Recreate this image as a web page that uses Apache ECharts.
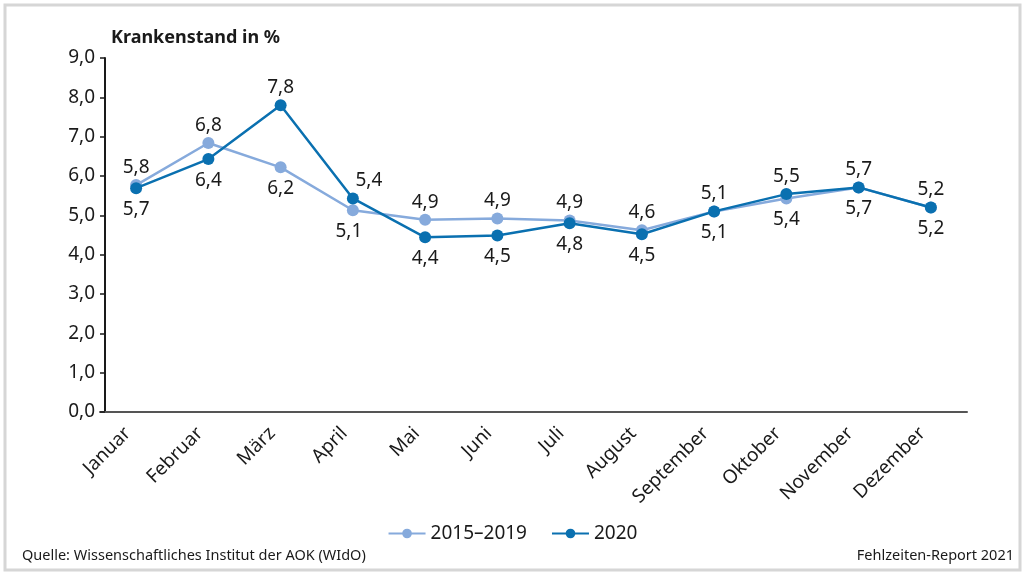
<!DOCTYPE html>
<html><head><meta charset="utf-8">
<script src="https://cdn.jsdelivr.net/npm/echarts@6/dist/echarts.min.js"></script>
<style>html,body{margin:0;padding:0;background:#fff}#c{width:1025px;height:573px}</style>
</head><body><div id="c"></div>
<script>
const months = ['Januar','Februar','März','April','Mai','Juni','Juli','August','September','Oktober','November','Dezember'];
const avg1519 = [5.77, 6.84, 6.22, 5.13, 4.89, 4.92, 4.87, 4.62, 5.10, 5.43, 5.71, 5.20];
const y2020   = [5.69, 6.43, 7.80, 5.43, 4.44, 4.49, 4.80, 4.52, 5.10, 5.54, 5.71, 5.20];
const yTicks = [0,1,2,3,4,5,6,7,8,9];
const seriesNames = ['2015–2019','2020'];
const lightPos = ['top','top','bottom','bottom','top','top','top','top','bottom','bottom','bottom','bottom'];
const darkPos  = ['bottom','bottom','top','top','bottom','bottom','bottom','bottom','top','top','top','top'];

const FONT = '"Noto Sans", "Open Sans", sans-serif';
const fmt = v => v.toFixed(1).replace('.', ',');
const light = '#86aadc', dark = '#0a70b0';

function build(vals, pos, darkSeries){
  return vals.map((v,i)=>{
    const lab = {position: pos[i], distance: pos[i]==='top'?2:6};
    if (darkSeries && i===3) { lab.offset = [16, 0]; }
    if (!darkSeries && i===3) { lab.offset = [-4, 0]; }
    return {value: v, label: lab};
  });
}

const chart = echarts.init(document.getElementById('c'), null, {renderer:'canvas'});
chart.setOption({
  animation:false,
  textStyle:{fontFamily:FONT},
  title:{text:'Krankenstand in %', left:106, top:24, textStyle:{fontFamily:FONT,fontSize:18,fontWeight:'bold',color:'#1a1a1a'}},
  grid:{left:100, right:58, top:58, bottom:161},
  legend:{top:519, left:'center', itemWidth:37, itemHeight:12, itemGap:24,
    textStyle:{fontFamily:FONT,fontSize:19,color:'#1a1a1a'}, data:seriesNames},
  xAxis:{type:'category', data:months, boundaryGap:true,
    axisLine:{lineStyle:{color:'#555',width:2}}, axisTick:{show:false},
    axisLabel:{rotate:45, fontFamily:FONT, fontSize:19, color:'#1a1a1a', margin:10, padding:[0,12,0,0], interval:0}},
  yAxis:{type:'value', min:yTicks[0], max:yTicks[yTicks.length-1], interval:1, offset:-5,
    axisLine:{show:true, lineStyle:{color:'#1a1a1a',width:2}},
    axisTick:{show:true, length:5, lineStyle:{color:'#1a1a1a',width:1.5}},
    splitLine:{show:false},
    axisLabel:{fontFamily:FONT, fontSize:19, color:'#1a1a1a', margin:10, formatter:v=>fmt(v)}},
  series:[
    {name:seriesNames[0], type:'line', data:build(avg1519, lightPos, false), symbol:'circle', symbolSize:12,
      lineStyle:{color:light,width:2.5}, itemStyle:{color:light},
      label:{show:true, fontFamily:FONT, fontSize:19, color:'#1a1a1a', formatter:p=>fmt(p.value)}, z:2},
    {name:seriesNames[1], type:'line', data:build(y2020, darkPos, true), symbol:'circle', symbolSize:12,
      lineStyle:{color:dark,width:2.5}, itemStyle:{color:dark},
      label:{show:true, fontFamily:FONT, fontSize:19, color:'#1a1a1a', formatter:p=>fmt(p.value)}, z:3}
  ],
  graphic:[
    {type:'rect', shape:{x:5,y:5,width:1015,height:565}, style:{fill:'none', stroke:'#d6d6d6', lineWidth:3}, silent:true},
    {type:'text', left:22, top:548, style:{text:'Quelle: Wissenschaftliches Institut der AOK (WIdO)', font:'14.5px '+FONT, fill:'#1a1a1a'}},
    {type:'text', right:11, top:548, style:{text:'Fehlzeiten-Report 2021', font:'14.5px '+FONT, fill:'#1a1a1a'}}
  ]
});
</script></body></html>
